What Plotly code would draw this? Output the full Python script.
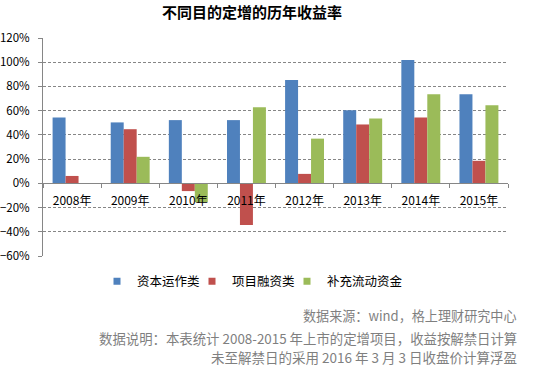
import plotly.graph_objects as go

categories = ["2008年", "2009年", "2010年", "2011年", "2012年", "2013年", "2014年", "2015年"]
capital_ops = [54.4, 50.3, 52.2, 52.2, 85.3, 60.3, 101.9, 73.6]
project_fin = [6.1, 44.7, -6.4, -34.4, 7.8, 48.6, 54.4, 18.6]
working_cap = [0.0, 21.9, -15.6, 62.8, 36.9, 53.6, 73.6, 64.4]
series_names = ["资本运作类", "项目融资类", "补充流动资金"]
colors = ["#4F81BD", "#C0504D", "#9BBB59"]
footer_lines = [
    "数据来源：wind，格上理财研究中心",
    "数据说明：本表统计 2008-2015 年上市的定增项目，收益按解禁日计算",
    "未至解禁日的采用 2016 年 3 月 3 日收盘价计算浮盈",
]

FONT = "Noto Sans CJK SC, Liberation Sans, sans-serif"

W, H = 536, 369
L, R, T, B = 43, 28, 38, 113
plot_h = H - T - B
plot_w = W - L - R

legend_ids = ["legend", "legend2", "legend3"]
legend_x = [97, 192, 287]

fig = go.Figure()
for name, vals, c in zip(series_names, [capital_ops, project_fin, working_cap], colors):
    fig.add_trace(go.Bar(x=categories, y=vals, name=name, showlegend=False,
                         marker=dict(color=c, line=dict(width=0))))
# legend entries with small square symbols
for name, c, lid in zip(series_names, colors, legend_ids):
    fig.add_trace(go.Scatter(x=[None], y=[None], mode="markers", name=name, legend=lid,
                             marker=dict(symbol="square", size=7, color=c)))

def legend_cfg(xpx):
    return dict(orientation="h", x=xpx / W, xanchor="left", xref="container",
                y=(H - 281.5) / H, yanchor="middle", yref="container",
                font=dict(size=12.5, color="#000000"), itemwidth=30,
                bgcolor="rgba(0,0,0,0)")

fig.update_layout(
    width=W, height=H,
    margin=dict(l=L, r=R, t=T, b=B, autoexpand=False),
    paper_bgcolor="white", plot_bgcolor="white",
    font=dict(family=FONT, size=12, color="#333333"),
    barmode="group", bargap=0.33, bargroupgap=0,
    title=dict(text="<b>不同目的定增的历年收益率</b>", x=252 / W, xanchor="center",
               y=1 - 13 / H, yanchor="middle", xref="container", yref="container",
               font=dict(size=15, color="#000000", family=FONT)),
    showlegend=True,
    legend=legend_cfg(legend_x[0]),
    legend2=legend_cfg(legend_x[1]),
    legend3=legend_cfg(legend_x[2]),
    xaxis=dict(type="category", anchor="free", position=60 / 180,
               showline=True, linecolor="#868686", linewidth=1,
               ticks="outside", tickson="boundaries", ticklen=4, tickcolor="#868686",
               showgrid=False, ticklabelstandoff=6,
               tickfont=dict(size=12, color="#000000")),
    yaxis=dict(range=[-60, 120], dtick=20, ticksuffix="%",
               showline=True, linecolor="#868686", linewidth=1,
               ticks="outside", ticklen=4, tickcolor="#868686",
               showgrid=True, gridcolor="#868686", griddash="3px,2px", gridwidth=1,
               zeroline=False, ticklabelstandoff=6,
               tickfont=dict(size=11.5, color="#000000")),
)

ys = [315, 338, 357]
sizes = [13.1, 13.4, 13.5]
for txt, yp, fs in zip(footer_lines, ys, sizes):
    fig.add_annotation(text=txt, xref="paper", yref="paper",
                       x=(519 - L) / plot_w, y=(H - B - yp) / plot_h,
                       xanchor="right", yanchor="middle", showarrow=False,
                       font=dict(size=fs, color="#7f7f7f", family=FONT))

fig.write_html("out.html", config={"displayModeBar": False},
               post_script="document.body.style.margin='0';")
